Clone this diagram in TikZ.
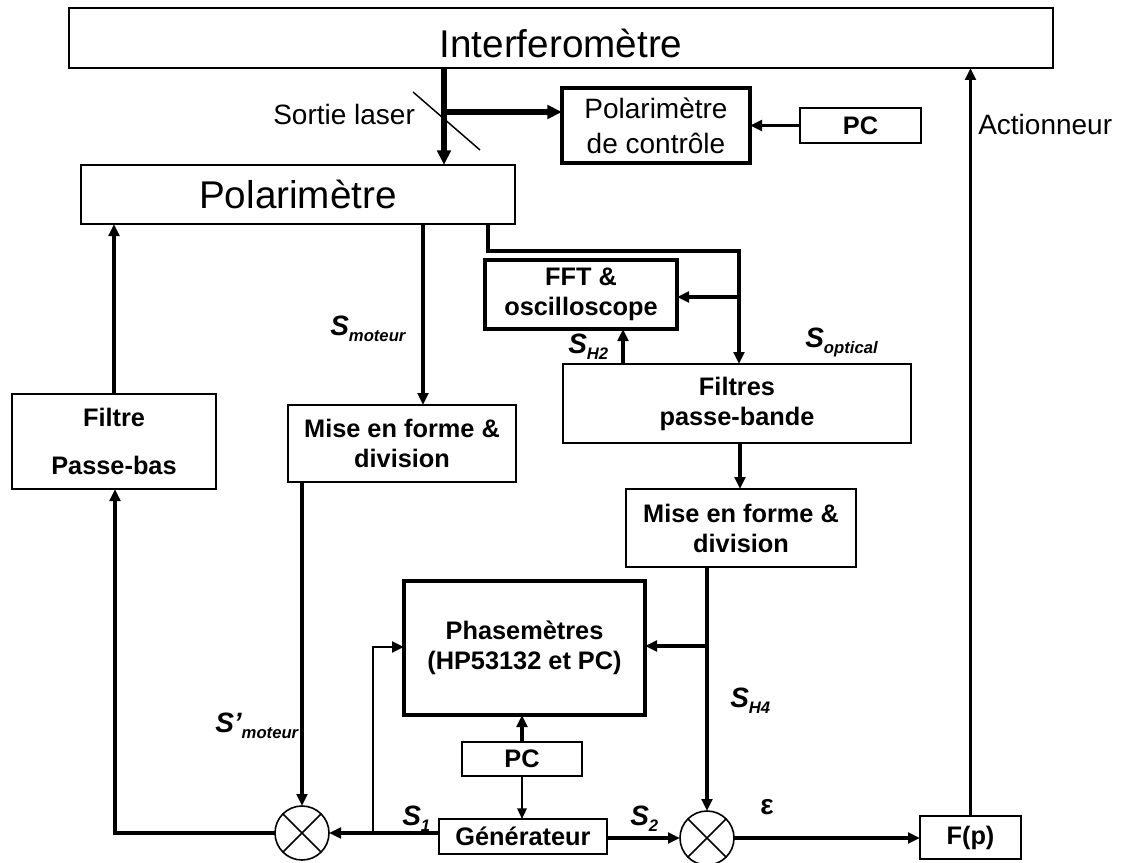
\documentclass[tikz,border=0pt]{standalone}
\usepackage{fontspec}
\setmainfont{Liberation Sans}
\usetikzlibrary{arrows.meta}
\newcommand{\sgl}[2]{{\fontsize{21}{21}\selectfont\bfseries\itshape #1\raisebox{-5pt}{\fontsize{12.5}{12.5}\selectfont #2}}}
\begin{document}
\begin{tikzpicture}[x=0.75pt,y=-0.75pt,
  box/.style={draw,line width=1.2pt,inner sep=0pt,outer sep=0pt,align=center,fill=white},
  tbox/.style={box,line width=3pt},
  bf/.style={font=\fontsize{19}{22.5}\selectfont\bfseries},
  conn/.style={line width=2.6pt,line join=miter},
  arr/.style={conn,-{Triangle[length=9pt,width=8pt]}},
  arrthin/.style={line width=1.6pt,-{Triangle[length=8pt,width=7pt]}},
  laser/.style={line width=4pt,-{Triangle[length=11pt,width=10pt]}},
  mult/.style={draw,circle,line width=1.2pt,minimum size=40.5pt,inner sep=0pt,outer sep=0pt},
  lbl/.style={inner sep=0pt,anchor=base west},
  reg/.style={font=\fontsize{21}{26.25}\selectfont},
]
\useasboundingbox (0,0) rectangle (1121,863);
\fill[white] (0,0) rectangle (1121,863);

% boxes
\node[box,minimum width=738pt,minimum height=45pt,text height=29pt,text depth=0pt,font=\fontsize{29}{35}\selectfont] (interf) at (561,38) {Interferomètre};
\node[box,minimum width=325.5pt,minimum height=44.25pt,font=\fontsize{29}{35}\selectfont] (pol) at (298,194.5) {Polarimètre};
\node[tbox,minimum width=141pt,minimum height=56.25pt,reg] (pdc) at (656,125.5) {Polarimètre\\de contrôle};
\node[box,minimum width=90.75pt,minimum height=26.25pt,bf] (pc1) at (860.5,125.5) {PC};
\node[tbox,minimum width=144pt,minimum height=51.75pt,bf] (fft) at (581,294.5) {FFT \&\\oscilloscope};
\node[box,minimum width=261pt,minimum height=59.25pt,bf] (filtres) at (737,403.5) {Filtres\\passe-bande};
\node[box,minimum width=171pt,minimum height=57.75pt,bf] (mise1) at (402,443.5) {Mise en forme \&\\division};
\node[box,minimum width=153pt,minimum height=71.25pt,font=\fontsize{19}{36}\selectfont\bfseries] (fpb) at (114,441.5) {Filtre\\Passe-bas};
\node[box,minimum width=172.5pt,minimum height=58.5pt,bf] (mise2) at (741,528) {Mise en forme \&\\division};
\node[tbox,minimum width=180.75pt,minimum height=100.5pt,bf] (phase) at (524.5,648) {Phasemètres\\(HP53132 et PC)};
\node[box,minimum width=90pt,minimum height=25.5pt,bf] (pc2) at (522,759) {PC};
\node[box,minimum width=126pt,minimum height=26.25pt,bf] (gen) at (523,836.5) {Générateur};
\node[box,minimum width=75.75pt,minimum height=32.25pt,bf] (fp) at (970.5,837.5) {F(p)};
\node[mult] (m1) at (302,833) {};
\node[mult] (m2) at (707,838) {};
\draw[line width=1.2pt] (m1.north west) -- (m1.south east) (m1.north east) -- (m1.south west);
\draw[line width=1.2pt] (m2.north west) -- (m2.south east) (m2.north east) -- (m2.south west);

% laser splitter
\coordinate (sp) at (444,112);
\draw[laser] (interf.south -| sp) -- (pol.north -| sp);
\draw[line width=1.1pt] (413,92) -- (480,150);
\draw[laser] (sp) -- (sp -| pdc.west);
\draw[arr] (pc1.west) -- (pdc.east);
\draw[arr] (fp.north) -- (fp.north |- interf.south);
\draw[arr] (fpb.north) -- (fpb.north |- pol.south);

\coordinate (a1) at (423,0);
\draw[arr] (pol.south -| a1) -- (mise1.north -| a1);
\coordinate (a2) at (488,251);
\coordinate (a3) at (739,251);
\coordinate (a4) at (739,297);
\draw[arr] (pol.south -| a2) -- (a2) -- (a3) -- (filtres.north -| a3);
\draw[arr] (a4) -- (a4 -| fft.east);
\coordinate (a5) at (623,0);
\draw[arr] (filtres.north -| a5) -- (fft.south -| a5);
\coordinate (a6) at (740,0);
\draw[arr] (filtres.south -| a6) -- (mise2.north -| a6);

\draw[arr] (mise1.south -| m1) -- (m1.north);
\coordinate (b1) at (115,833);
\draw[arr] (m1.west) -- (b1) -- (fpb.south -| b1);
\draw[arr] (gen.west |- m1) -- (m1.east);
\coordinate (b2) at (373,833);
\coordinate (b3) at (373,647);
\draw[arr,line width=2.2pt] (b2) -- (b3) -- (b3 -| phase.west);
\draw[arr] (gen.east |- m2) -- (m2.west);
\draw[arr] (mise2.south -| m2) -- (m2.north);
\coordinate (b4) at (707,646);
\draw[arr] (b4) -- (b4 -| phase.east);
\draw[arr] (pc2.north) -- (pc2.north |- phase.south);
\draw[arrthin] (pc2.south) -- (pc2.south |- gen.north);
\draw[arr] (m2.east) -- (fp.west |- m2);

% labels
\node[lbl,reg] (sl) at (273,125) {Sortie laser};
\node[lbl,reg] (act) at (978,135) {Actionneur};
\node[lbl] (smot) at (330,335) {\sgl{S}{moteur}};
\node[lbl] (sh2) at (568,353) {\sgl{S}{H2}};
\node[lbl] (sopt) at (805,347) {\sgl{S}{optical}};
\node[lbl] (smot2) at (215,732) {\sgl{S’}{moteur}};
\node[lbl] (s1) at (402,825) {\sgl{S}{1}};
\node[lbl] (s2) at (630,825) {\sgl{S}{2}};
\node[lbl] (sh4) at (730,707) {\sgl{S}{H4}};
\node[inner sep=0pt,font=\fontsize{21}{21}\selectfont\bfseries] (eps) at (767,807) {ε};
\end{tikzpicture}
\end{document}
